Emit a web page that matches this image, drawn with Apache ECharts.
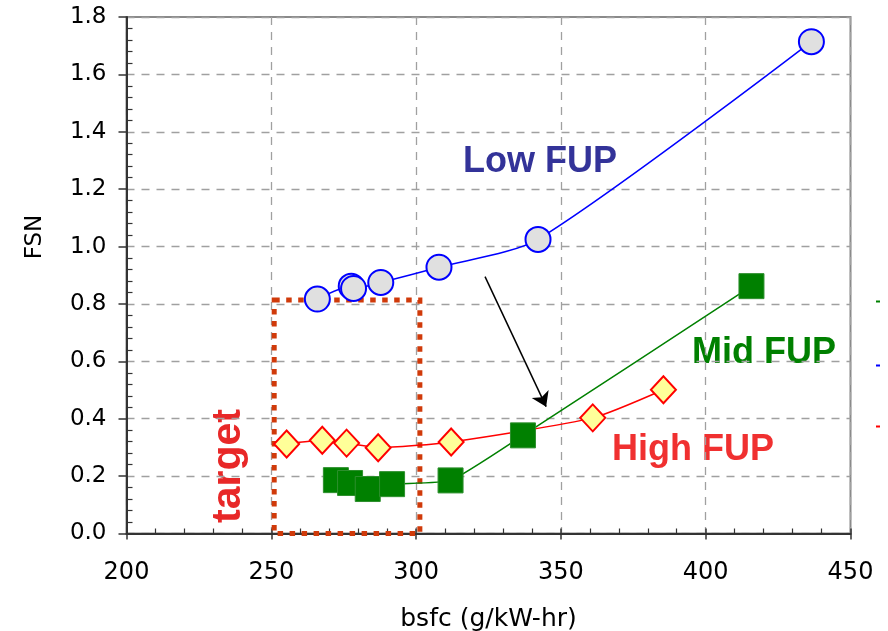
<!DOCTYPE html>
<html>
<head>
<meta charset="utf-8">
<script src="https://cdn.jsdelivr.net/npm/echarts@6/dist/echarts.min.js"></script>
<style>
html,body{margin:0;padding:0;background:#fff;}
#chart{width:888px;height:631px;}
</style>
</head>
<body>
<div id="chart"></div>
<script>
// ---- data ----
const lowX  = [265.9, 277.6, 278.4, 287.8, 307.9, 342.1, 436.5];
const lowY  = [0.817, 0.862, 0.854, 0.875, 0.928, 1.025, 1.714];
const midX  = [272.3, 277.2, 283.3, 291.7, 311.9, 336.9, 415.8];
const midY  = [0.186, 0.176, 0.155, 0.172, 0.185, 0.342, 0.862];
const highX = [255.3, 267.6, 276.0, 286.9, 312.1, 361.0, 385.4];
const highY = [0.312, 0.325, 0.315, 0.299, 0.319, 0.403, 0.501];
const targetX = [251.0, 301.3];
const targetY = [0, 0.814];
const arrowFrom = [323.8, 0.895];
const arrowTo   = [344.9, 0.442];
const xTicks = [200, 250, 300, 350, 400, 450];
const yTicks = [0, 0.2, 0.4, 0.6, 0.8, 1.0, 1.2, 1.4, 1.6, 1.8];
const seriesNames = ['Low FUP', 'Mid FUP', 'High FUP'];

const pairs = (xs, ys) => xs.map((x, i) => [x, ys[i]]);

const chart = echarts.init(document.getElementById('chart'), null, {renderer: 'canvas'});
const tickFont = 'DejaVu Sans';
const gridDash = {color: '#a0a0a0', type: [8, 7], width: 1.3};

const legendBase = (name, color, top) => ({
  left: 876, top: top, padding: 0, orient: 'vertical', icon: 'rect',
  itemWidth: 4, itemHeight: 2, selectedMode: false,
  textStyle: {color: 'rgba(0,0,0,0)', fontSize: 4},
  data: [{name: name, itemStyle: {color: color, borderWidth: 0}, lineStyle: {color: color}}]
});

const option = {
  animation: false,
  backgroundColor: '#fff',
  grid: {left: 126.5, right: 37.5, top: 17, bottom: 97.5, show: true,
         borderColor: '#8a8a8a', borderWidth: 2, backgroundColor: 'rgba(0,0,0,0)',
         outerBoundsMode: 'none'},
  legend: [
    legendBase(seriesNames[1], '#008000', 299.5),
    legendBase(seriesNames[0], '#0000ff', 363.5),
    legendBase(seriesNames[2], '#ff0000', 424.5)
  ],
  xAxis: [
    {type: 'value', min: xTicks[0], max: xTicks[xTicks.length - 1], interval: 50, position: 'bottom',
     axisLine: {show: true, onZero: false, lineStyle: {color: '#333', width: 2}},
     axisTick: {show: true, inside: false, length: 6, lineStyle: {color: '#333', width: 1.5}},
     axisLabel: {fontFamily: tickFont, fontSize: 24, color: '#000', margin: 27},
     splitLine: {show: true, lineStyle: gridDash},
     name: 'bsfc (g/kW-hr)', nameLocation: 'middle', nameGap: 73,
     nameTextStyle: {fontFamily: tickFont, fontSize: 25, color: '#000'}},
    {type: 'value', min: xTicks[0], max: xTicks[xTicks.length - 1], interval: 50, position: 'bottom',
     axisLine: {show: false, onZero: false},
     axisTick: {show: true, inside: true, length: 5, lineStyle: {color: '#333', width: 1.5}},
     minorTick: {show: true, splitNumber: 5, length: 5, lineStyle: {color: '#333', width: 1.2}},
     axisLabel: {show: false}, splitLine: {show: false}}
  ],
  yAxis: [
    {type: 'value', min: yTicks[0], max: yTicks[yTicks.length - 1], interval: 0.2, position: 'left',
     axisLine: {show: true, onZero: false, lineStyle: {color: '#333', width: 2}},
     axisTick: {show: true, inside: false, length: 8, lineStyle: {color: '#333', width: 1.5}},
     axisLabel: {fontFamily: tickFont, fontSize: 23, color: '#000', margin: 20,
                 formatter: v => v.toFixed(1)},
     splitLine: {show: true, lineStyle: gridDash}},
    {type: 'value', min: yTicks[0], max: yTicks[yTicks.length - 1], interval: 0.2, position: 'left',
     axisLine: {show: false, onZero: false},
     axisTick: {show: false, inside: true},
     minorTick: {show: true, splitNumber: 5, length: 6, lineStyle: {color: '#333', width: 1.2}},
     axisLabel: {show: false}, splitLine: {show: false}}
  ],
  series: [
    {name: seriesNames[2], type: 'line', xAxisIndex: 0, yAxisIndex: 0, z: 3,
     data: pairs(highX, highY), smooth: 0.2, clip: false,
     symbol: 'diamond', symbolSize: [25, 27],
     lineStyle: {color: '#ff0000', width: 1.5},
     itemStyle: {color: '#ffff99', borderColor: '#ff0000', borderWidth: 2},
     markArea: {silent: true,
       itemStyle: {color: 'rgba(0,0,0,0)', borderColor: '#d03a0a', borderWidth: 5, borderType: [5.5, 6.5]},
       data: [[{coord: [targetX[0], targetY[1]]}, {coord: [targetX[1], targetY[0]]}]]}},
    {name: seriesNames[1], type: 'line', xAxisIndex: 0, yAxisIndex: 0, z: 4,
     data: pairs(midX, midY), smooth: 0.15, clip: false,
     symbol: 'rect', symbolSize: 25,
     lineStyle: {color: '#008000', width: 1.5},
     itemStyle: {color: '#008000', borderColor: '#2d8f2d', borderWidth: 1}},
    {name: seriesNames[0], type: 'line', xAxisIndex: 0, yAxisIndex: 0, z: 5,
     data: pairs(lowX, lowY), smooth: 0.25, clip: false,
     symbol: 'circle', symbolSize: 25,
     lineStyle: {color: '#0000ff', width: 1.5},
     itemStyle: {color: '#e0e0e0', borderColor: '#0000ff', borderWidth: 2}},
    {name: 'arrow', type: 'line', xAxisIndex: 0, yAxisIndex: 0, z: 6,
     data: [], color: '#000', itemStyle: {color: '#000'}, lineStyle: {color: '#000'},
     markLine: {silent: true, symbol: ['none', 'arrow'], symbolSize: 14,
       lineStyle: {color: '#000', width: 1.5, type: 'solid'},
       itemStyle: {color: '#000'},
       label: {show: false}, emphasis: {disabled: true},
       data: [[{coord: arrowFrom}, {coord: arrowTo, itemStyle: {color: '#000'}}]]}}
  ],
  graphic: [
    {type: 'text', x: 540, y: 162, silent: true,
     style: {text: 'Low FUP', fontFamily: 'Liberation Sans', fontWeight: 'bold', fontSize: 36,
             fill: '#333399', align: 'center', verticalAlign: 'middle'}},
    {type: 'text', x: 764, y: 353, silent: true,
     style: {text: 'Mid FUP', fontFamily: 'Liberation Sans', fontWeight: 'bold', fontSize: 36,
             fill: '#008000', align: 'center', verticalAlign: 'middle'}},
    {type: 'text', x: 693, y: 450, silent: true,
     style: {text: 'High FUP', fontFamily: 'Liberation Sans', fontWeight: 'bold', fontSize: 36,
             fill: '#f03030', align: 'center', verticalAlign: 'middle'}},
    {type: 'text', x: 229, y: 466, rotation: Math.PI / 2, silent: true,
     style: {text: 'target', fontFamily: 'Liberation Sans', fontWeight: 'bold', fontSize: 41,
             fill: '#e82828', align: 'center', verticalAlign: 'middle'}},
    {type: 'text', x: 35, y: 237, rotation: Math.PI / 2, silent: true,
     style: {text: 'FSN', fontFamily: tickFont, fontSize: 23,
             fill: '#000', align: 'center', verticalAlign: 'middle'}}
  ]
};
chart.setOption(option);
</script>
</body>
</html>
